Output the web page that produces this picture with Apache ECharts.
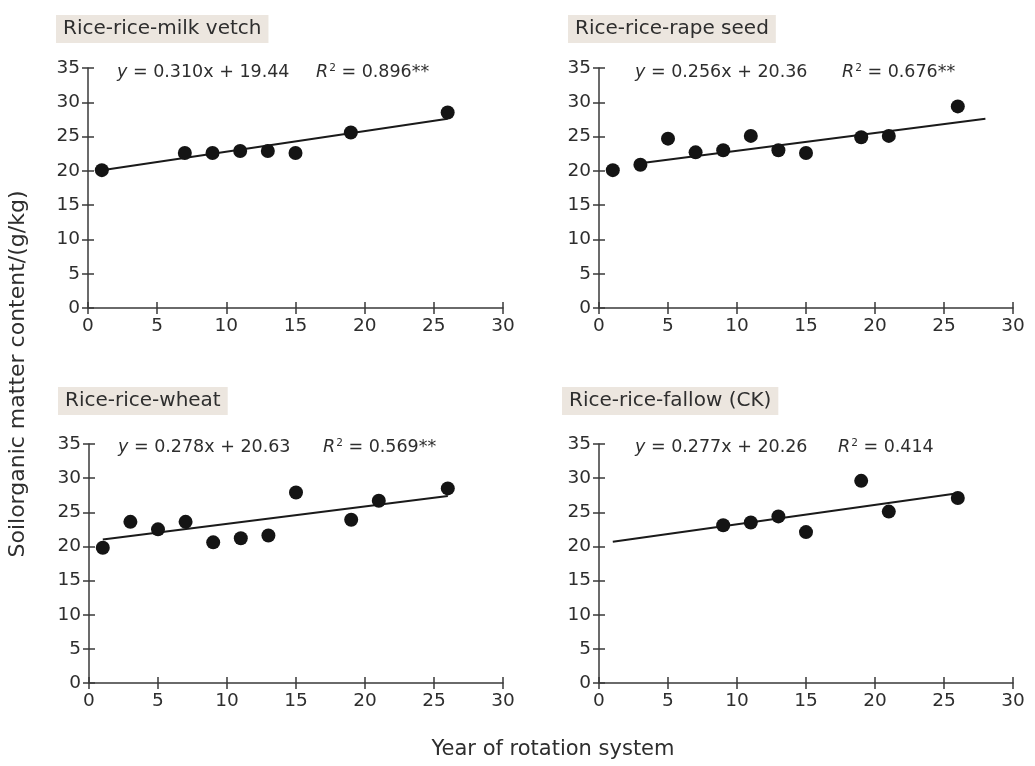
<!DOCTYPE html>
<html>
<head>
<meta charset="utf-8">
<script src="https://cdn.jsdelivr.net/npm/echarts@6/dist/echarts.min.js"></script>
<style>html,body{margin:0;padding:0;background:#fff;}#c{width:1035px;height:766px;}</style>
</head>
<body>
<div id="c"></div>
<script>
// ---- data ----
var panelTitles = ['Rice-rice-milk vetch', 'Rice-rice-rape seed', 'Rice-rice-wheat', 'Rice-rice-fallow (CK)'];
var equations = ['0.310x + 19.44', '0.256x + 20.36', '0.278x + 20.63', '0.277x + 20.26'];
var r2Texts = ['0.896**', '0.676**', '0.569**', '0.414'];

var milkVetchYears = [1, 7, 9, 11, 13, 15, 19, 26];
var milkVetchSOM   = [20.1, 22.6, 22.6, 22.9, 22.9, 22.6, 25.6, 28.5];
var rapeSeedYears  = [1, 3, 5, 7, 9, 11, 13, 15, 19, 21, 26];
var rapeSeedSOM    = [20.1, 20.9, 24.7, 22.7, 23.0, 25.1, 23.0, 22.6, 24.9, 25.1, 29.4];
var wheatYears     = [1, 3, 5, 7, 9, 11, 13, 15, 19, 21, 26];
var wheatSOM       = [19.8, 23.6, 22.5, 23.6, 20.6, 21.2, 21.6, 27.9, 23.9, 26.7, 28.5];
var fallowYears    = [9, 11, 13, 15, 19, 21, 26];
var fallowSOM      = [23.1, 23.5, 24.4, 22.1, 29.6, 25.1, 27.1];

// trend line end points (x, y)
var milkVetchTrendX = [1, 26],  milkVetchTrendY = [20.1, 27.6];
var rapeSeedTrendX  = [3, 28],  rapeSeedTrendY  = [21.1, 27.6];
var wheatTrendX     = [1, 26],  wheatTrendY     = [21.0, 27.4];
var fallowTrendX    = [1, 26],  fallowTrendY    = [20.7, 27.8];

var xTicks = { min: 0, max: 30, interval: 5 };
var yTicks = { min: 0, max: 35, interval: 5 };

var yAxisTitle = 'Soilorganic matter content/(g/kg)';
var xAxisTitle = 'Year of rotation system';

// ---- build chart ----
var FONT = '"DejaVu Sans"';
var TXT = '#2e2e2e';
var AX = '#3a3a3a';
function pairs(xs, ys) { return xs.map(function (x, i) { return [x, ys[i]]; }); }
var scatterSets = [pairs(milkVetchYears, milkVetchSOM), pairs(rapeSeedYears, rapeSeedSOM), pairs(wheatYears, wheatSOM), pairs(fallowYears, fallowSOM)];
var trendSets = [pairs(milkVetchTrendX, milkVetchTrendY), pairs(rapeSeedTrendX, rapeSeedTrendY), pairs(wheatTrendX, wheatTrendY), pairs(fallowTrendX, fallowTrendY)];

var grids = [
  { left: 88, top: 68, width: 415, height: 240 },
  { left: 599, top: 68, width: 414, height: 240 },
  { left: 89, top: 444, width: 414, height: 239 },
  { left: 599, top: 444, width: 414, height: 239 }
];
var titlePos = [[56, 15], [568, 15], [58, 387], [562, 387]];
var eqPos = [[117, 72], [635, 72], [118, 447], [635, 447]];
var r2Pos = [[316, 72], [842, 72], [323, 447], [838, 447]];

var xAxes = [], yAxes = [], series = [], titles = [], graphics = [];
grids.forEach(function (g, i) {
  var axLine = { show: true, lineStyle: { color: AX, width: 1.5 } };
  xAxes.push({ gridIndex: i, type: 'value', min: xTicks.min, max: xTicks.max, interval: xTicks.interval,
    axisLine: axLine, axisTick: { show: true, length: 6, lineStyle: { color: AX, width: 1.5 } },
    axisLabel: { color: TXT, fontSize: 18.5, fontFamily: FONT, margin: 9 }, splitLine: { show: false } });
  xAxes.push({ gridIndex: i, type: 'value', position: 'bottom', min: xTicks.min, max: xTicks.max, interval: xTicks.interval,
    axisLine: { show: false }, axisTick: { show: true, inside: true, length: 6, lineStyle: { color: AX, width: 1.5 } },
    axisLabel: { show: false }, splitLine: { show: false } });
  yAxes.push({ gridIndex: i, type: 'value', min: yTicks.min, max: yTicks.max, interval: yTicks.interval,
    axisLine: axLine, axisTick: { show: true, length: 6, lineStyle: { color: AX, width: 1.5 } },
    axisLabel: { color: TXT, fontSize: 18.5, fontFamily: FONT, margin: 8 }, splitLine: { show: false } });
  yAxes.push({ gridIndex: i, type: 'value', position: 'left', min: yTicks.min, max: yTicks.max, interval: yTicks.interval,
    axisLine: { show: false }, axisTick: { show: true, inside: true, length: 6, lineStyle: { color: AX, width: 1.5 } },
    axisLabel: { show: false }, splitLine: { show: false } });
  series.push({ type: 'line', xAxisIndex: 2 * i, yAxisIndex: 2 * i, data: trendSets[i], symbol: 'none',
    lineStyle: { color: '#1a1a1a', width: 2 }, silent: true, z: 2 });
  series.push({ type: 'scatter', xAxisIndex: 2 * i, yAxisIndex: 2 * i, data: scatterSets[i], symbolSize: 14,
    itemStyle: { color: '#141414', opacity: 1 }, z: 3 });
  titles.push({ text: panelTitles[i], left: titlePos[i][0], top: titlePos[i][1], backgroundColor: '#ece6df',
    padding: [4, 7, 4, 7], textStyle: { fontFamily: FONT, fontSize: 20, fontWeight: 'normal', color: TXT, lineHeight: 20 } });
  graphics.push({ type: 'text', x: eqPos[i][0], y: eqPos[i][1], style: {
    text: '{i|y} = ' + equations[i], fill: TXT, font: '17.5px ' + FONT, textVerticalAlign: 'middle',
    rich: { i: { fontStyle: 'italic', fontFamily: FONT, fontSize: 17.5, fill: TXT } } } });
  graphics.push({ type: 'text', x: r2Pos[i][0], y: r2Pos[i][1], style: {
    text: '{i|R}{s|2} = ' + r2Texts[i], fill: TXT, font: '17.5px ' + FONT, textVerticalAlign: 'middle',
    rich: { i: { fontStyle: 'italic', fontFamily: FONT, fontSize: 17.5, fill: TXT },
            s: { fontFamily: FONT, fontSize: 10.5, fill: TXT, verticalAlign: 'top', padding: [0, 0, 8, 1] } } } });
});

var chart = echarts.init(document.getElementById('c'), null, { renderer: 'canvas' });
graphics.push({ type: 'text', x: 18, y: 374, rotation: Math.PI / 2, style: { text: yAxisTitle, fill: TXT, font: '22px ' + FONT, textAlign: 'center', textVerticalAlign: 'middle' } });
graphics.push({ type: 'text', x: 553, y: 750, style: { text: xAxisTitle, fill: TXT, font: '21px ' + FONT, textAlign: 'center', textVerticalAlign: 'middle' } });

chart.setOption({
  animation: false,
  backgroundColor: '#ffffff',
  title: titles,
  grid: grids,
  xAxis: xAxes,
  yAxis: yAxes,
  graphic: graphics,
  series: series
});
</script>
</body>
</html>
